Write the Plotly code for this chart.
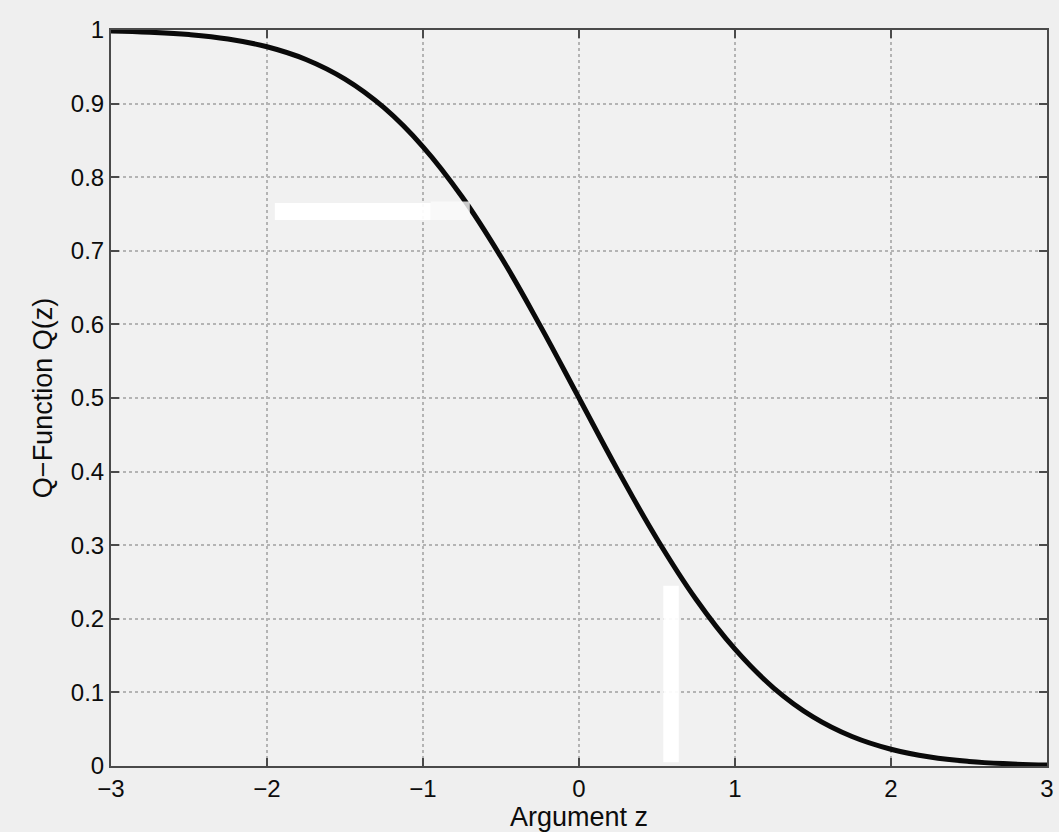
import plotly.graph_objects as go

# Q-function samples, Q(z) = P(X > z) for a standard normal X
z_vals = [-3.0, -2.75, -2.5, -2.25, -2.0, -1.75, -1.5, -1.25, -1.0, -0.75, -0.5, -0.25,
          0.0, 0.25, 0.5, 0.75, 1.0, 1.25, 1.5, 1.75, 2.0, 2.25, 2.5, 2.75, 3.0]
q_vals = [0.9987, 0.9970, 0.9938, 0.9878, 0.9772, 0.9599, 0.9332, 0.8944, 0.8413, 0.7734,
          0.6915, 0.5987, 0.5000, 0.4013, 0.3085, 0.2266, 0.1587, 0.1056, 0.0668, 0.0401,
          0.0228, 0.0122, 0.0062, 0.0030, 0.0013]

x_ticks = [-3, -2, -1, 0, 1, 2, 3]
x_tick_text = ["\u22123", "\u22122", "\u22121", "0", "1", "2", "3"]
y_ticks = [0, 0.1, 0.2, 0.3, 0.4, 0.5, 0.6, 0.7, 0.8, 0.9, 1]
y_tick_text = ["0", "0.1", "0.2", "0.3", "0.4", "0.5", "0.6", "0.7", "0.8", "0.9", "1"]

font_family = "Liberation Sans, Arial, sans-serif"
text_color = "#0c0c0c"
frame_color = "#4a4a4a"
grid_color = "#b4b4b4"

fig = go.Figure()
fig.add_trace(go.Scatter(
    x=z_vals, y=q_vals, mode="lines",
    line=dict(color="#0a0a0a", width=5, shape="spline", smoothing=1.2),
    hoverinfo="x+y", showlegend=False,
))

axis_common = dict(
    showline=True, linecolor=frame_color, linewidth=2, mirror="allticks",
    ticks="inside", ticklen=8, tickwidth=1.5, tickcolor=frame_color,
    showgrid=True, gridcolor=grid_color, griddash="dot", gridwidth=1.5,
    zeroline=False, automargin=False,
    tickfont=dict(family=font_family, size=24, color=text_color),
)

fig.update_xaxes(
    range=[-3, 3], tickvals=x_ticks, ticktext=x_tick_text,
    title=dict(text="Argument z", font=dict(family=font_family, size=27, color=text_color), standoff=2),
    **axis_common,
)
fig.update_yaxes(
    range=[0, 1], tickvals=y_ticks, ticktext=y_tick_text,
    title=dict(text="Q\u2212Function Q(z)", font=dict(family=font_family, size=27, color=text_color), standoff=10),
    **axis_common,
)

# light smudges left on the page
fig.add_shape(type="rect", xref="x", yref="y", x0=-1.95, x1=-0.95, y0=0.742, y1=0.765,
              fillcolor="#ffffff", line_width=0, layer="above", opacity=0.95)
fig.add_shape(type="rect", xref="x", yref="y", x0=-0.95, x1=-0.7, y0=0.742, y1=0.767,
              fillcolor="#fbfbfb", line_width=0, layer="above", opacity=0.8)
fig.add_shape(type="rect", xref="x", yref="y", x0=0.54, x1=0.64, y0=0.005, y1=0.245,
              fillcolor="#ffffff", line_width=0, layer="above", opacity=0.95)

fig.update_layout(
    width=1059, height=832,
    margin=dict(l=111, r=12, t=30, b=66),
    paper_bgcolor="#efefef", plot_bgcolor="#f1f1f1",
    font=dict(family=font_family),
)

fig.write_html("out.html")
